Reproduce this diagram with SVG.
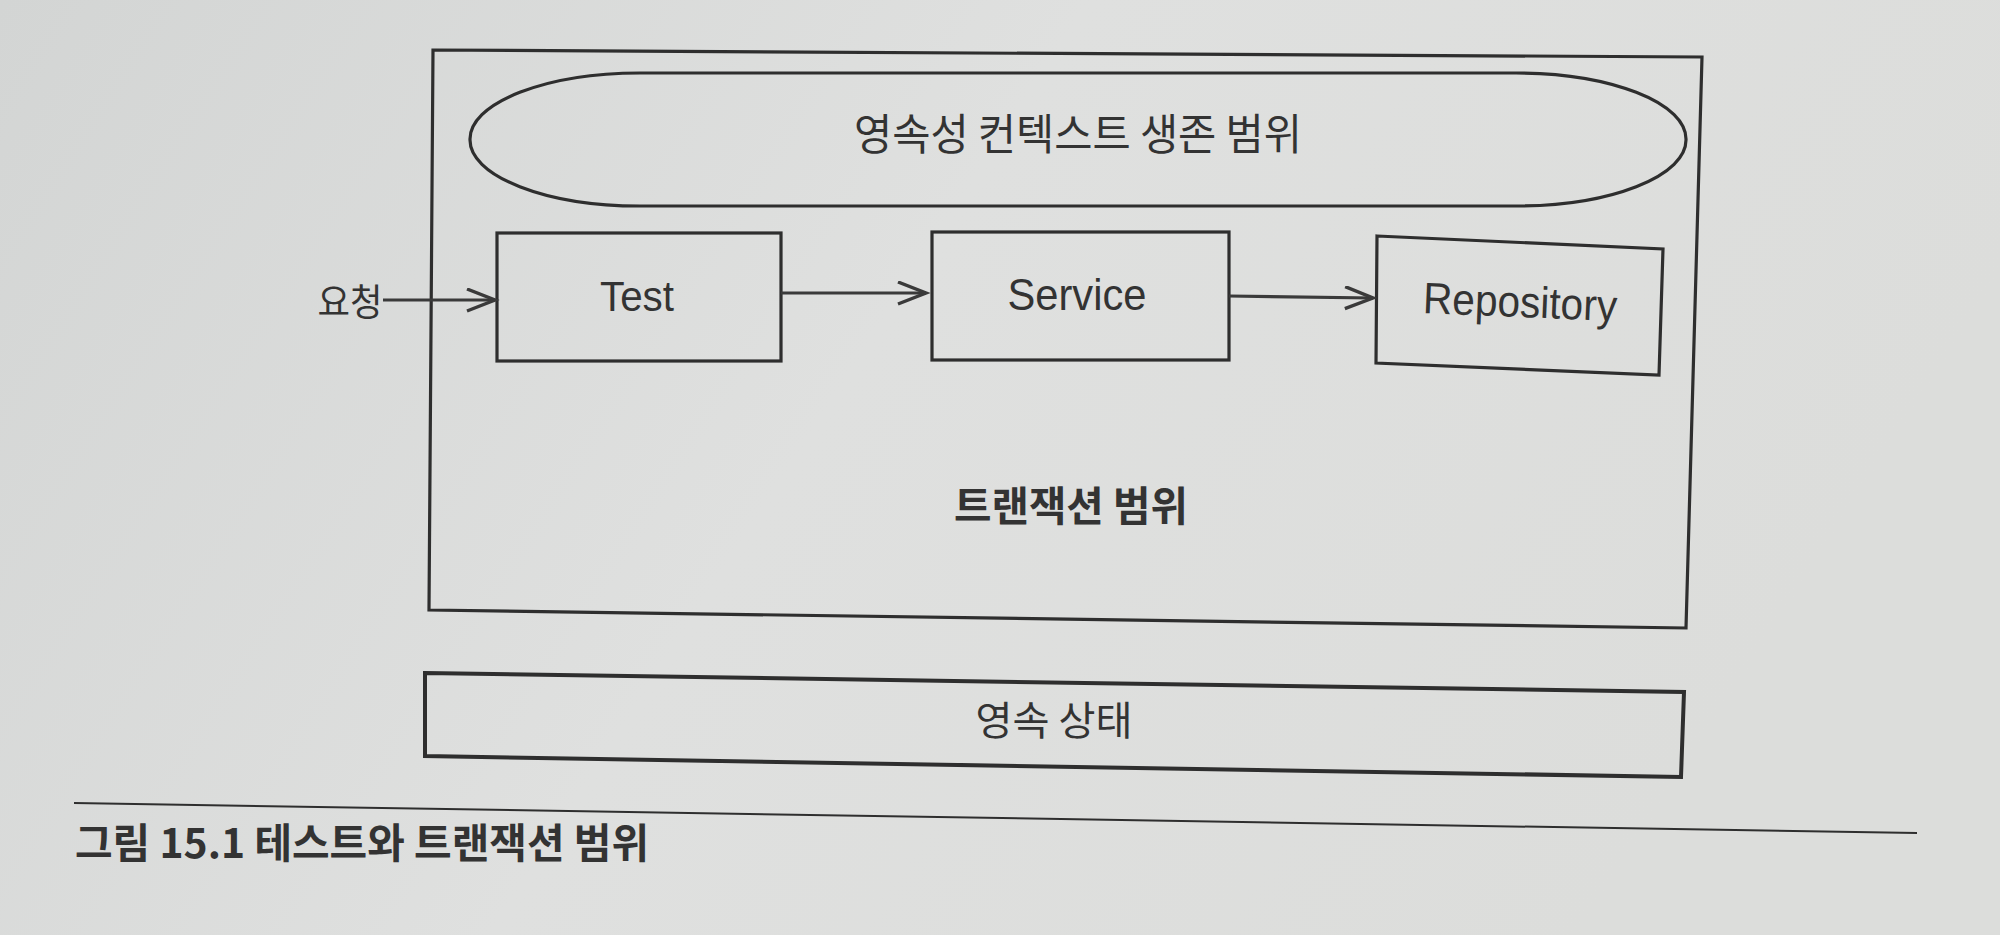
<svg xmlns="http://www.w3.org/2000/svg" width="2000" height="935" viewBox="0 0 2000 935">
<defs>
<style>
.ln{fill:none;stroke:#2e2e2e;stroke-width:3.2;stroke-linejoin:miter}
.thick{stroke-width:4}
.kr{font-family:"Noto Sans CJK KR","Noto Sans",sans-serif;fill:#333}
.en{font-family:"Liberation Sans",Arial,sans-serif;fill:#333}
.b{font-weight:bold}
.arr{fill:none;stroke:#3a3a3a;stroke-width:3.2}
</style>
<linearGradient id="bg" x1="0" y1="0" x2="1" y2="0.3">
<stop offset="0" stop-color="#d3d5d4"/>
<stop offset="0.5" stop-color="#dfe0df"/>
<stop offset="1" stop-color="#dcdddb"/>
</linearGradient>
<marker id="chev" markerUnits="userSpaceOnUse" markerWidth="34" markerHeight="28" refX="29" refY="12" orient="auto" viewBox="0 0 34 28">
<path d="M1,1 L29,12 L1,23" fill="none" stroke="#3a3a3a" stroke-width="3.4"/>
</marker>
</defs>
<rect x="0" y="0" width="2000" height="935" fill="url(#bg)"/>

<g id="transaction-scope">
<polygon class="ln" points="433,50 1702,57 1686,628 429,610"/>
<text class="kr b" x="1071" y="521" font-size="41" text-anchor="middle" textLength="234" lengthAdjust="spacingAndGlyphs">트랜잭션 범위</text>
</g>

<g id="persistence-context">
<rect class="ln" x="470" y="73" width="1216" height="133" rx="170" ry="66"/>
<text class="kr" x="1078" y="150" font-size="43" text-anchor="middle" textLength="448" lengthAdjust="spacingAndGlyphs">영속성 컨텍스트 생존 범위</text>
</g>

<g id="request">
<text class="kr" x="350" y="316" font-size="37" text-anchor="middle" textLength="65" lengthAdjust="spacingAndGlyphs">요청</text>
</g>

<g id="test">
<rect class="ln" x="497" y="233" width="284" height="128"/>
<text class="en" x="637" y="311" font-size="42" text-anchor="middle" textLength="74" lengthAdjust="spacingAndGlyphs">Test</text>
</g>

<g id="service">
<rect class="ln" x="932" y="232" width="297" height="128"/>
<text class="en" x="1077" y="310" font-size="44" text-anchor="middle" textLength="139" lengthAdjust="spacingAndGlyphs">Service</text>
</g>

<g id="repository">
<polygon class="ln" points="1377,236 1663,249 1659,375 1376,363"/>
<text class="en" x="1520" y="317" font-size="44" text-anchor="middle" textLength="194" lengthAdjust="spacingAndGlyphs" transform="rotate(2.4 1520 305)">Repository</text>
</g>

<g id="persistent-state">
<polygon class="ln thick" points="425,673 1684,692 1681,777 425,756"/>
<text class="kr" x="1054" y="735" font-size="40" text-anchor="middle" textLength="157" lengthAdjust="spacingAndGlyphs">영속 상태</text>
</g>

<g id="connectors">
<line class="arr" x1="383" y1="300" x2="495" y2="300" marker-end="url(#chev)"/>
<line class="arr" x1="781" y1="293" x2="926" y2="293" marker-end="url(#chev)"/>
<line class="arr" x1="1229" y1="296" x2="1373" y2="298" marker-end="url(#chev)"/>
</g>

<g id="caption">
<line x1="74" y1="803" x2="1917" y2="833" stroke="#2e2e2e" stroke-width="2"/>
<text class="kr b" x="75" y="858" font-size="41" textLength="574" lengthAdjust="spacingAndGlyphs">그림 15.1 테스트와 트랜잭션 범위</text>
</g>
</svg>
